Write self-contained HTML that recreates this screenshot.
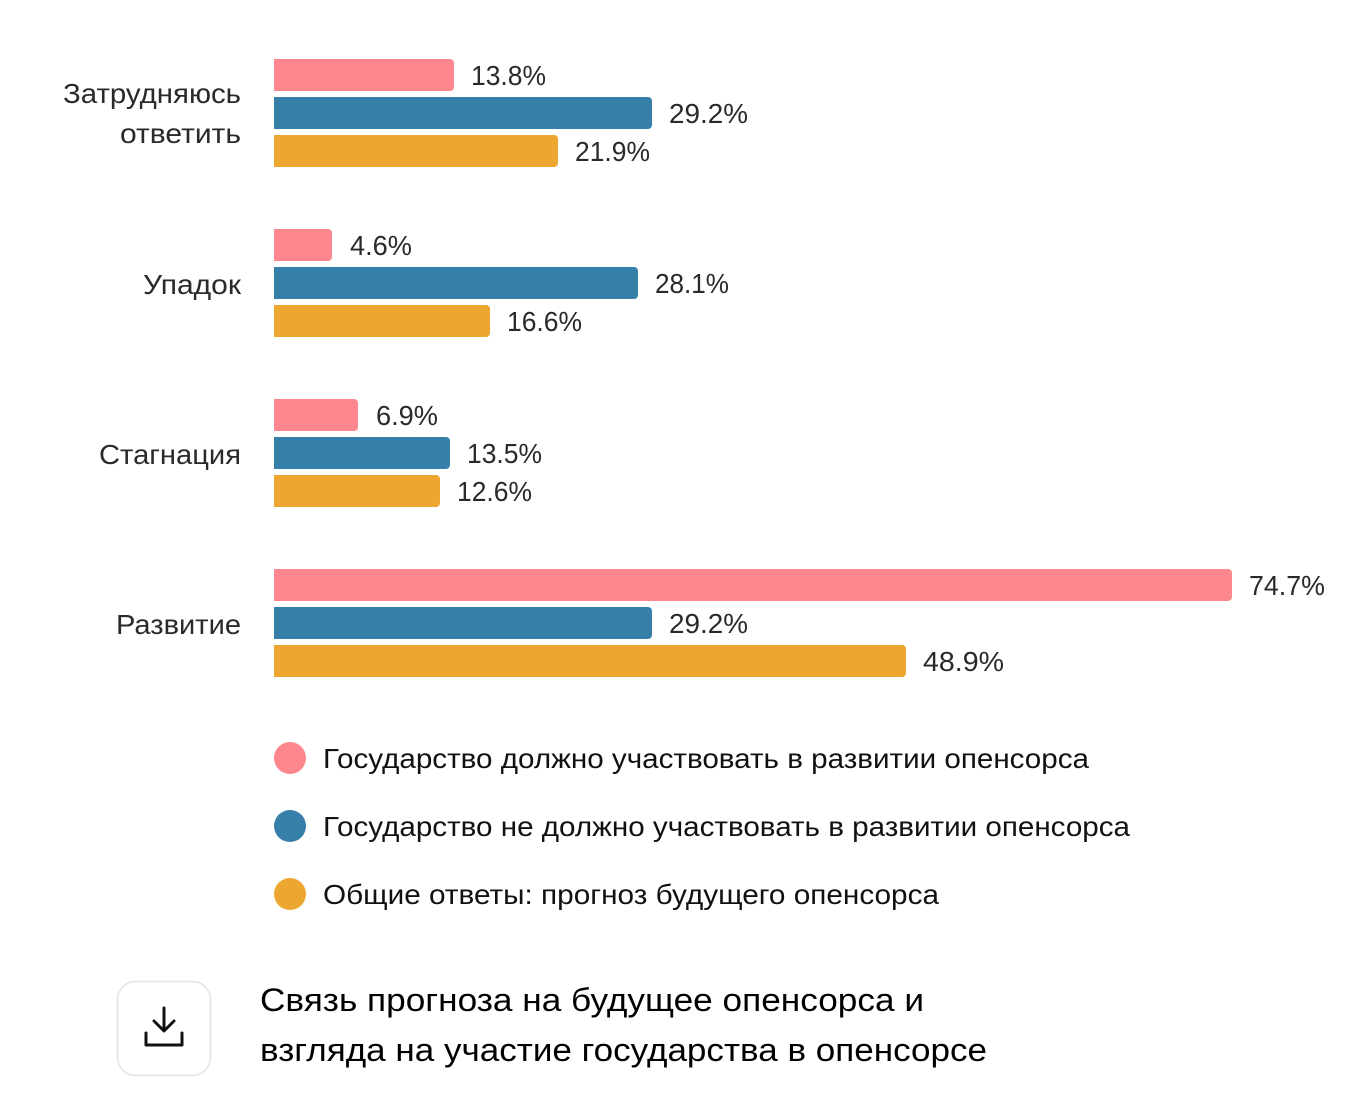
<!DOCTYPE html>
<html>
<head>
<meta charset="utf-8">
<style>
  html,body{margin:0;padding:0;background:#fff;}
  svg{display:block;}
  .cat{font-family:"Liberation Sans","Noto Sans CJK SC",sans-serif;font-size:28px;fill:#2a2a2a;}
  .val{font-family:"Liberation Sans",sans-serif;font-size:28px;fill:#2a2a2a;}
  .leg{font-family:"Liberation Sans","Noto Sans CJK SC",sans-serif;font-size:28px;fill:#111;}
  .ttl{font-family:"Liberation Sans","Noto Sans CJK SC",sans-serif;font-size:32px;fill:#000;}
</style>
</head>
<body>
<svg width="1370" height="1094" viewBox="0 0 1370 1094" xmlns="http://www.w3.org/2000/svg">
  <!-- Group 1 -->
  <g>
    <rect x="274" y="59" width="180" height="32" rx="4" fill="#FE868E"/><rect x="274" y="59" width="8" height="32" fill="#FE868E"/>
    <rect x="274" y="97" width="378" height="32" rx="4" fill="#357FA9"/><rect x="274" y="97" width="8" height="32" fill="#357FA9"/>
    <rect x="274" y="135" width="284" height="32" rx="4" fill="#EDA730"/><rect x="274" y="135" width="8" height="32" fill="#EDA730"/>
    <text class="val" x="471" y="85" textLength="75" lengthAdjust="spacingAndGlyphs">13.8%</text>
    <text class="val" x="669" y="123" textLength="79" lengthAdjust="spacingAndGlyphs">29.2%</text>
    <text class="val" x="575" y="161" textLength="75" lengthAdjust="spacingAndGlyphs">21.9%</text>
    <text class="cat" x="63" y="103" textLength="178" lengthAdjust="spacingAndGlyphs">Затрудняюсь</text>
    <text class="cat" x="120" y="143" textLength="121" lengthAdjust="spacingAndGlyphs">ответить</text>
  </g>
  <!-- Group 2 -->
  <g>
    <rect x="274" y="229" width="58" height="32" rx="4" fill="#FE868E"/><rect x="274" y="229" width="8" height="32" fill="#FE868E"/>
    <rect x="274" y="267" width="364" height="32" rx="4" fill="#357FA9"/><rect x="274" y="267" width="8" height="32" fill="#357FA9"/>
    <rect x="274" y="305" width="216" height="32" rx="4" fill="#EDA730"/><rect x="274" y="305" width="8" height="32" fill="#EDA730"/>
    <text class="val" x="350" y="255" textLength="62" lengthAdjust="spacingAndGlyphs">4.6%</text>
    <text class="val" x="655" y="293" textLength="74" lengthAdjust="spacingAndGlyphs">28.1%</text>
    <text class="val" x="507" y="331" textLength="75" lengthAdjust="spacingAndGlyphs">16.6%</text>
    <text class="cat" x="143" y="294" textLength="98" lengthAdjust="spacingAndGlyphs">Упадок</text>
  </g>
  <!-- Group 3 -->
  <g>
    <rect x="274" y="399" width="84" height="32" rx="4" fill="#FE868E"/><rect x="274" y="399" width="8" height="32" fill="#FE868E"/>
    <rect x="274" y="437" width="176" height="32" rx="4" fill="#357FA9"/><rect x="274" y="437" width="8" height="32" fill="#357FA9"/>
    <rect x="274" y="475" width="166" height="32" rx="4" fill="#EDA730"/><rect x="274" y="475" width="8" height="32" fill="#EDA730"/>
    <text class="val" x="376" y="425" textLength="62" lengthAdjust="spacingAndGlyphs">6.9%</text>
    <text class="val" x="467" y="463" textLength="75" lengthAdjust="spacingAndGlyphs">13.5%</text>
    <text class="val" x="457" y="501" textLength="75" lengthAdjust="spacingAndGlyphs">12.6%</text>
    <text class="cat" x="99" y="464" textLength="142" lengthAdjust="spacingAndGlyphs">Стагнация</text>
  </g>
  <!-- Group 4 -->
  <g>
    <rect x="274" y="569" width="958" height="32" rx="4" fill="#FE868E"/><rect x="274" y="569" width="8" height="32" fill="#FE868E"/>
    <rect x="274" y="607" width="378" height="32" rx="4" fill="#357FA9"/><rect x="274" y="607" width="8" height="32" fill="#357FA9"/>
    <rect x="274" y="645" width="632" height="32" rx="4" fill="#EDA730"/><rect x="274" y="645" width="8" height="32" fill="#EDA730"/>
    <text class="val" x="1249" y="595" textLength="76" lengthAdjust="spacingAndGlyphs">74.7%</text>
    <text class="val" x="669" y="633" textLength="79" lengthAdjust="spacingAndGlyphs">29.2%</text>
    <text class="val" x="923" y="671" textLength="81" lengthAdjust="spacingAndGlyphs">48.9%</text>
    <text class="cat" x="116" y="634" textLength="125" lengthAdjust="spacingAndGlyphs">Развитие</text>
  </g>
  <!-- Legend -->
  <g>
    <circle cx="290" cy="758" r="16" fill="#FE868E"/>
    <text class="leg" x="323" y="768" textLength="766" lengthAdjust="spacingAndGlyphs">Государство должно участвовать в развитии опенсорса</text>
    <circle cx="290" cy="826" r="16" fill="#357FA9"/>
    <text class="leg" x="323" y="836" textLength="807" lengthAdjust="spacingAndGlyphs">Государство не должно участвовать в развитии опенсорса</text>
    <circle cx="290" cy="894" r="16" fill="#EDA730"/>
    <text class="leg" x="323" y="904" textLength="616" lengthAdjust="spacingAndGlyphs">Общие ответы: прогноз будущего опенсорса</text>
  </g>
  <!-- Download button -->
  <g>
    <rect x="117.5" y="981.5" width="93" height="94" rx="18" fill="#fff" stroke="#e4e4e4" stroke-width="1.5"/>
    <path d="M164 1008 V1030 M154 1021 L164 1031 L174 1021" fill="none" stroke="#111" stroke-width="3" stroke-linecap="round" stroke-linejoin="round"/>
    <path d="M146 1033 V1045 H182 V1033" fill="none" stroke="#111" stroke-width="3" stroke-linecap="round" stroke-linejoin="round"/>
  </g>
  <!-- Title -->
  <text class="ttl" x="260" y="1011" textLength="664" lengthAdjust="spacingAndGlyphs">Связь прогноза на будущее опенсорса и</text>
  <text class="ttl" x="260" y="1061" textLength="727" lengthAdjust="spacingAndGlyphs">взгляда на участие государства в опенсорсе</text>
</svg>
</body>
</html>
